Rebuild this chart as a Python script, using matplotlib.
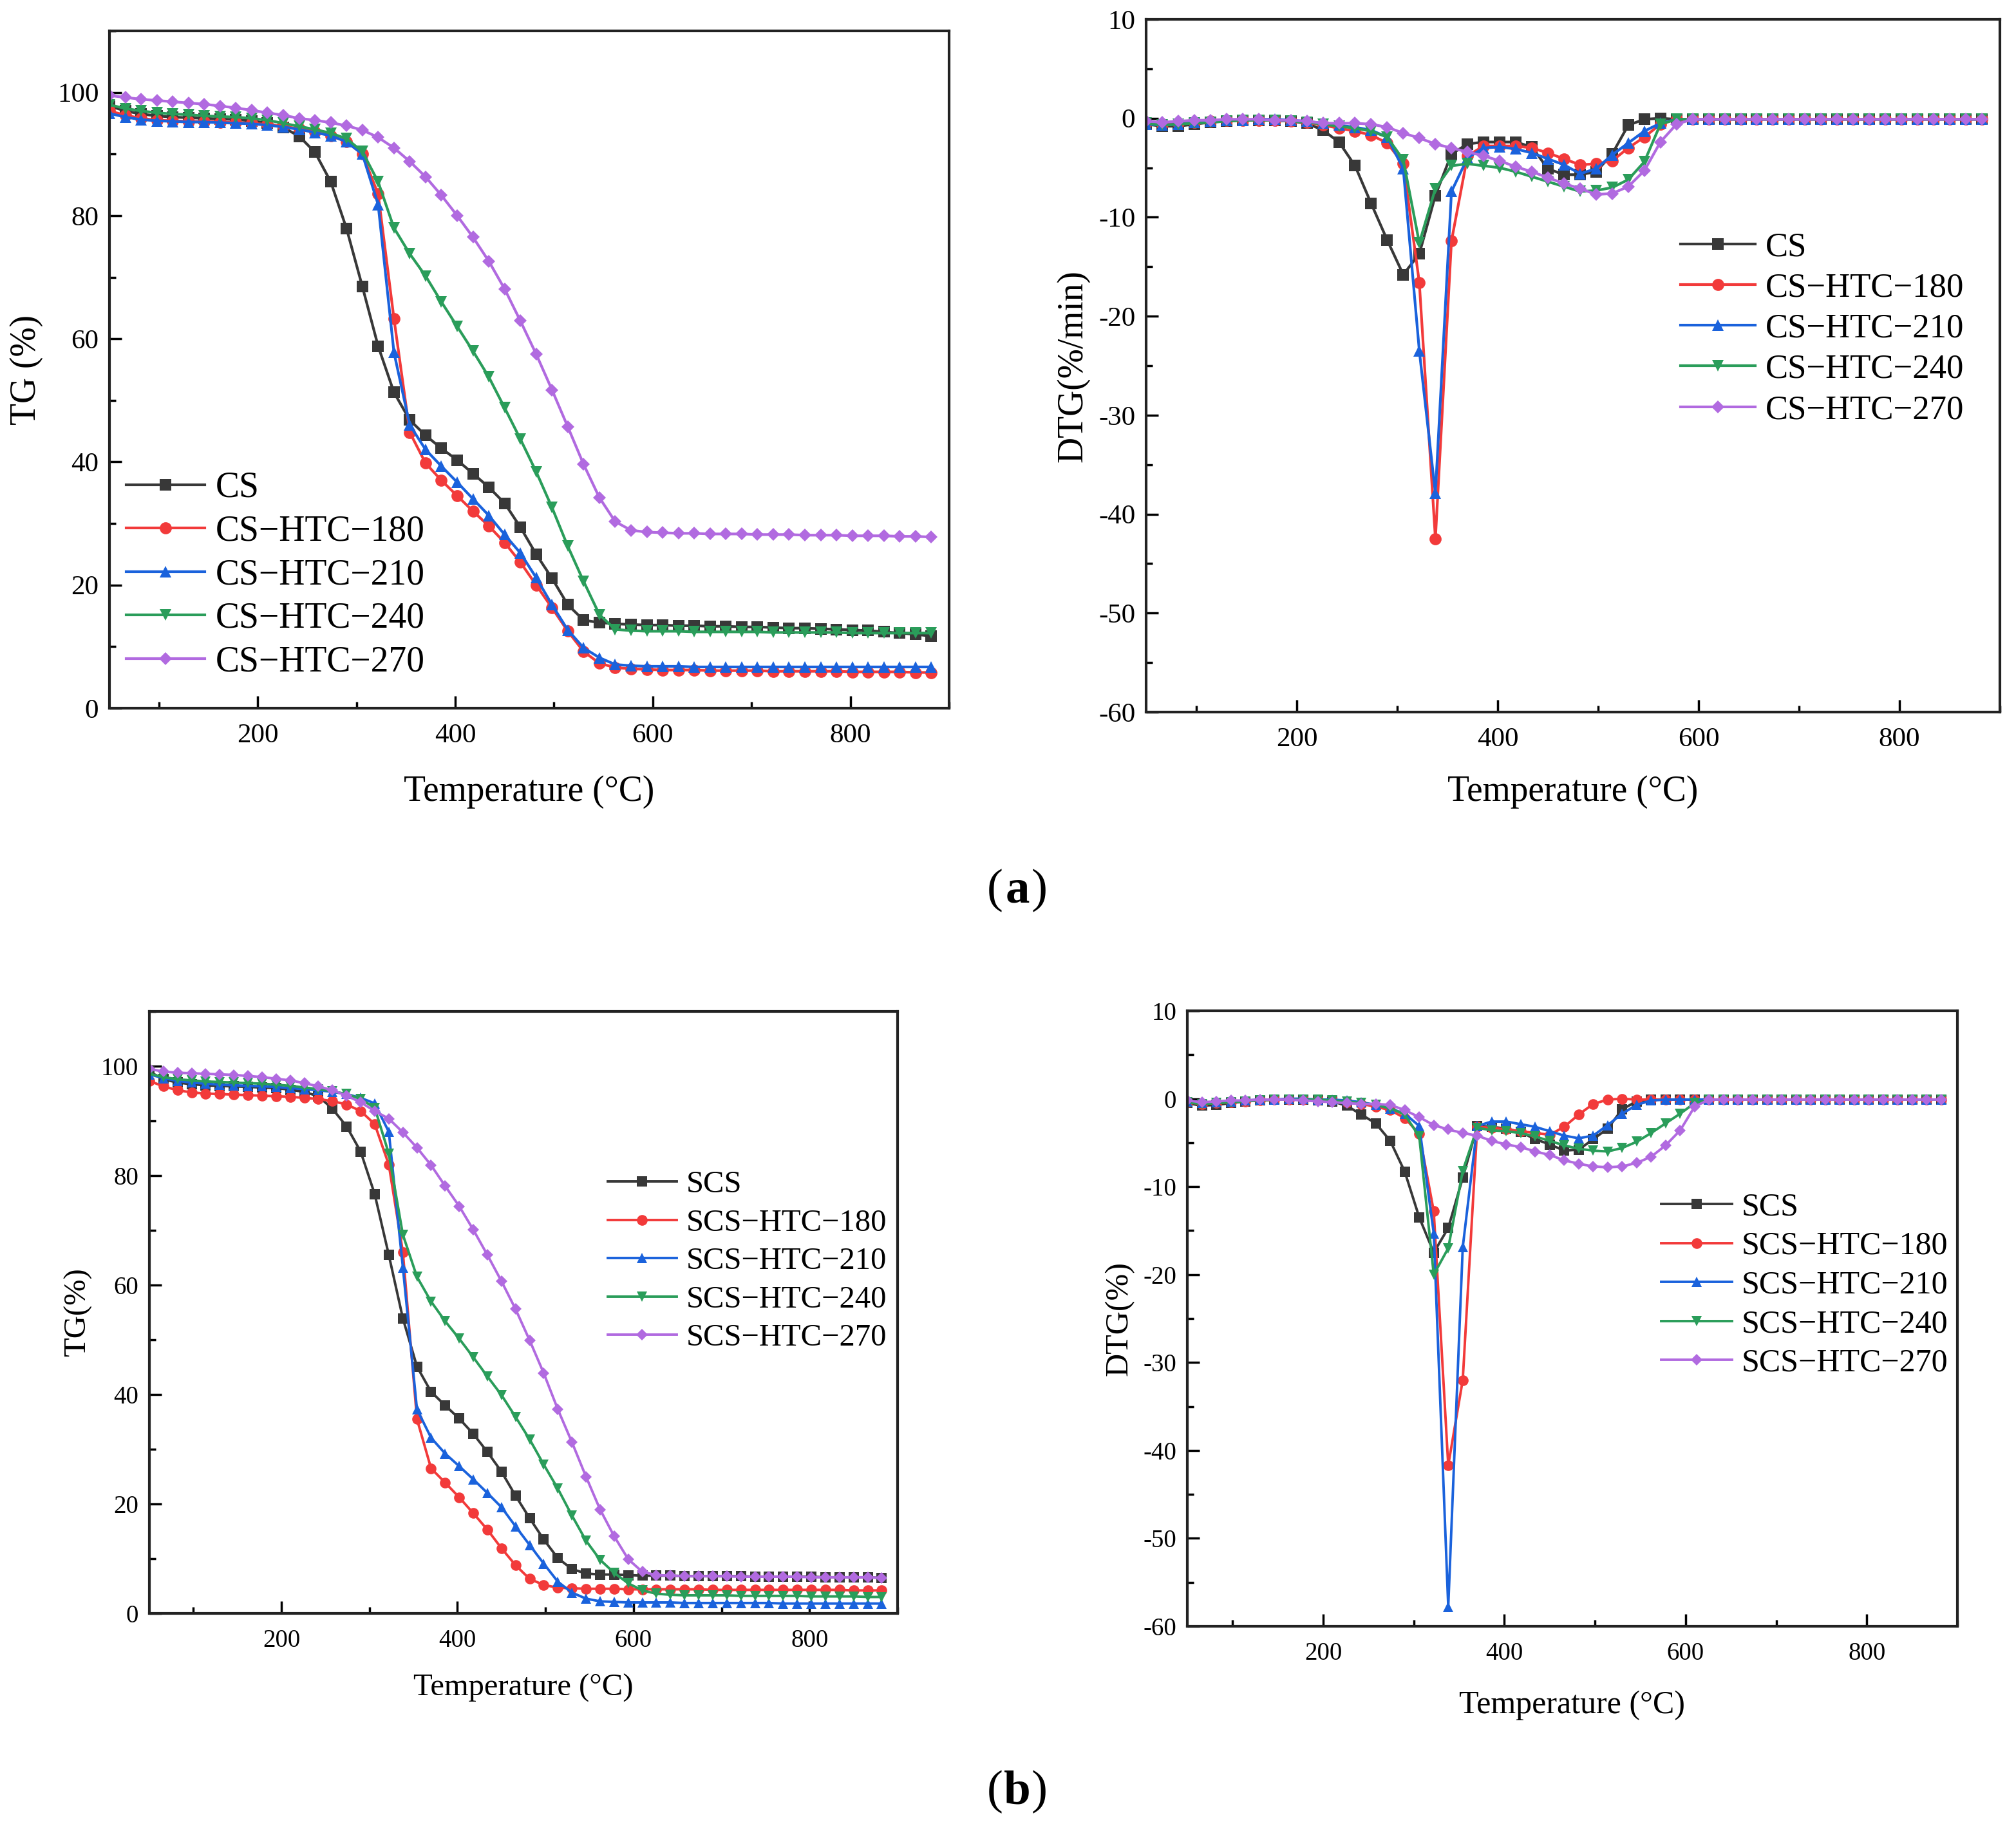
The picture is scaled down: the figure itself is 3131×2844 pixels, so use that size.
import matplotlib
matplotlib.use("Agg")
import matplotlib.pyplot as plt
from matplotlib.ticker import MultipleLocator, AutoMinorLocator

plt.rcParams['font.family'] = ['Liberation Serif', 'DejaVu Serif']
plt.rcParams['axes.unicode_minus'] = False

# ---------------- data ----------------
temperature = [50, 66, 82, 98, 114, 130, 146, 162, 178, 194,
               210, 226, 242, 258, 274, 290, 306, 322, 338, 354,
               370, 386, 402, 418, 434, 450, 466, 482, 498, 514,
               530, 546, 562, 578, 594, 610, 626, 642, 658, 674,
               690, 706, 722, 738, 754, 770, 786, 802, 818, 834,
               850, 866, 882]

labels_a = ["CS", "CS\u2212HTC\u2212180", "CS\u2212HTC\u2212210", "CS\u2212HTC\u2212240", "CS\u2212HTC\u2212270"]
labels_b = ["SCS", "SCS\u2212HTC\u2212180", "SCS\u2212HTC\u2212210", "SCS\u2212HTC\u2212240", "SCS\u2212HTC\u2212270"]

# (a) TG
tg_cs = [97.8, 97.0, 96.5, 96.2, 96.0, 95.9, 95.8, 95.7, 95.6, 95.4,
         95.0, 94.3, 92.9, 90.3, 85.5, 77.9, 68.5, 58.8, 51.3, 46.8,
         44.3, 42.2, 40.3, 38.1, 35.9, 33.3, 29.4, 25.0, 21.1, 16.8,
         14.3, 13.9, 13.7, 13.6, 13.5, 13.5, 13.4, 13.4, 13.3, 13.3,
         13.2, 13.2, 13.1, 13.0, 13.0, 12.9, 12.8, 12.7, 12.6, 12.4,
         12.2, 12.0, 11.7]
tg_cs180 = [97.0, 96.3, 95.8, 95.5, 95.4, 95.3, 95.3, 95.2, 95.1, 95.0,
            94.8, 94.5, 94.1, 93.6, 93.0, 92.0, 90.0, 83.5, 63.3, 44.8,
            39.8, 37.0, 34.5, 32.0, 29.6, 26.9, 23.7, 20.0, 16.3, 12.5,
            9.2, 7.3, 6.6, 6.4, 6.3, 6.2, 6.2, 6.2, 6.1, 6.1,
            6.1, 6.1, 6.0, 6.0, 6.0, 6.0, 6.0, 5.9, 5.9, 5.9,
            5.9, 5.8, 5.8]
tg_cs210 = [96.6, 96.0, 95.6, 95.4, 95.3, 95.2, 95.2, 95.1, 95.0, 94.9,
            94.7, 94.4, 94.0, 93.5, 93.0, 92.0, 90.0, 81.8, 57.8, 46.0,
            42.0, 39.3, 36.7, 34.0, 31.3, 28.2, 25.2, 21.2, 16.8, 12.7,
            9.8, 8.2, 7.1, 6.9, 6.8, 6.8, 6.8, 6.7, 6.7, 6.7,
            6.7, 6.7, 6.7, 6.7, 6.7, 6.7, 6.7, 6.7, 6.7, 6.7,
            6.7, 6.7, 6.7]
tg_cs240 = [98.0, 97.4, 97.0, 96.7, 96.5, 96.4, 96.2, 96.1, 96.0, 95.8,
            95.5, 95.0, 94.5, 94.0, 93.4, 92.5, 90.4, 85.5, 78.0, 73.8,
            70.2, 66.0, 62.0, 58.0, 53.8, 48.8, 43.7, 38.4, 32.6, 26.3,
            20.6, 15.2, 12.8, 12.6, 12.5, 12.5, 12.5, 12.4, 12.4, 12.4,
            12.4, 12.4, 12.3, 12.3, 12.3, 12.3, 12.3, 12.2, 12.2, 12.2,
            12.2, 12.2, 12.2]
tg_cs270 = [99.5, 99.2, 98.9, 98.7, 98.5, 98.3, 98.1, 97.8, 97.5, 97.1,
            96.7, 96.3, 95.8, 95.5, 95.1, 94.6, 93.9, 92.7, 91.0, 88.8,
            86.3, 83.3, 80.0, 76.5, 72.6, 68.1, 62.9, 57.5, 51.7, 45.7,
            39.6, 34.2, 30.3, 28.9, 28.6, 28.5, 28.4, 28.4, 28.3, 28.3,
            28.3, 28.2, 28.2, 28.2, 28.1, 28.1, 28.1, 28.0, 28.0, 28.0,
            27.9, 27.9, 27.8]

# (a) DTG
dtg_cs = [-0.6, -0.8, -0.8, -0.6, -0.4, -0.3, -0.2, -0.2, -0.2, -0.3,
          -0.5, -1.2, -2.4, -4.8, -8.6, -12.3, -15.8, -13.7, -7.8, -3.6,
          -2.6, -2.4, -2.4, -2.4, -2.9, -5.1, -5.7, -5.7, -5.4, -3.6,
          -0.7, -0.1, 0.0, -0.1, -0.1, -0.1, -0.1, -0.1, -0.1, -0.1,
          -0.1, -0.1, -0.1, -0.1, -0.1, -0.1, -0.1, -0.1, -0.1, -0.1,
          -0.1, -0.1, -0.1]
dtg_cs180 = [-0.5, -0.6, -0.5, -0.4, -0.3, -0.2, -0.2, -0.2, -0.2, -0.3,
             -0.4, -0.7, -1.0, -1.3, -1.7, -2.5, -4.6, -16.6, -42.5, -12.4,
             -3.8, -2.8, -2.8, -2.8, -3.0, -3.5, -4.1, -4.7, -4.6, -4.3,
             -3.0, -1.9, -0.6, -0.1, -0.1, -0.1, -0.1, -0.1, -0.1, -0.1,
             -0.1, -0.1, -0.1, -0.1, -0.1, -0.1, -0.1, -0.1, -0.1, -0.1,
             -0.1, -0.1, -0.1]
dtg_cs210 = [-0.6, -0.7, -0.6, -0.4, -0.3, -0.2, -0.2, -0.1, -0.1, -0.2,
             -0.3, -0.5, -0.7, -0.9, -1.2, -1.9, -5.1, -23.5, -37.9, -7.4,
             -4.0, -3.0, -2.9, -3.1, -3.5, -4.1, -4.7, -5.6, -5.1, -3.7,
             -2.5, -1.3, -0.5, -0.1, -0.1, -0.1, -0.1, -0.1, -0.1, -0.1,
             -0.1, -0.1, -0.1, -0.1, -0.1, -0.1, -0.1, -0.1, -0.1, -0.1,
             -0.1, -0.1, -0.1]
dtg_cs240 = [-0.5, -0.7, -0.6, -0.5, -0.4, -0.3, -0.2, -0.2, -0.2, -0.3,
             -0.4, -0.6, -0.8, -1.0, -1.3, -1.9, -4.2, -12.6, -7.1, -4.8,
             -4.6, -4.8, -5.0, -5.4, -5.9, -6.4, -6.9, -7.4, -7.3, -7.0,
             -6.2, -4.4, -0.6, -0.1, -0.1, -0.1, -0.1, -0.1, -0.1, -0.1,
             -0.1, -0.1, -0.1, -0.1, -0.1, -0.1, -0.1, -0.1, -0.1, -0.1,
             -0.1, -0.1, -0.1]
dtg_cs270 = [-0.3, -0.4, -0.3, -0.2, -0.2, -0.1, -0.1, -0.1, -0.2, -0.2,
             -0.3, -0.5, -0.5, -0.5, -0.6, -0.9, -1.5, -2.0, -2.6, -3.0,
             -3.4, -3.8, -4.3, -4.9, -5.4, -6.0, -6.6, -7.1, -7.7, -7.6,
             -6.9, -5.3, -2.4, -0.6, -0.1, -0.1, -0.1, -0.1, -0.1, -0.1,
             -0.1, -0.1, -0.1, -0.1, -0.1, -0.1, -0.1, -0.1, -0.1, -0.1,
             -0.1, -0.1, -0.1]

# (b) TG
tg_scs = [99.0, 97.6, 97.0, 96.7, 96.5, 96.4, 96.3, 96.2, 96.1, 96.0,
          95.7, 95.3, 94.5, 92.2, 89.0, 84.4, 76.6, 65.5, 53.9, 45.1,
          40.5, 38.0, 35.6, 32.8, 29.5, 25.9, 21.5, 17.4, 13.5, 10.1,
          8.1, 7.3, 7.1, 7.1, 7.0, 6.9, 6.9, 6.9, 6.8, 6.8,
          6.8, 6.8, 6.8, 6.7, 6.7, 6.7, 6.7, 6.7, 6.6, 6.6,
          6.6, 6.6, 6.5]
tg_scs180 = [97.3, 96.3, 95.6, 95.2, 95.0, 94.9, 94.8, 94.7, 94.6, 94.5,
             94.4, 94.2, 94.0, 93.6, 93.0, 91.8, 89.4, 82.0, 66.0, 35.5,
             26.5, 23.9, 21.2, 18.3, 15.3, 11.9, 8.8, 6.3, 5.2, 4.7,
             4.6, 4.5, 4.5, 4.5, 4.4, 4.4, 4.4, 4.4, 4.4, 4.4,
             4.3, 4.3, 4.3, 4.3, 4.3, 4.3, 4.3, 4.3, 4.3, 4.3,
             4.2, 4.2, 4.2]
tg_scs210 = [98.5, 97.8, 97.3, 97.0, 96.8, 96.6, 96.5, 96.4, 96.3, 96.2,
             96.0, 95.8, 95.6, 95.3, 94.9, 94.2, 93.2, 88.0, 63.2, 37.3,
             32.1, 29.2, 26.9, 24.5, 22.0, 19.4, 15.9, 12.5, 9.1, 5.8,
             3.8, 2.7, 2.2, 2.1, 2.0, 2.0, 2.0, 2.0, 1.9, 1.9,
             1.9, 1.9, 1.9, 1.9, 1.9, 1.8, 1.8, 1.8, 1.8, 1.8,
             1.8, 1.8, 1.8]
tg_scs240 = [98.6, 98.0, 97.6, 97.4, 97.2, 97.1, 97.0, 96.9, 96.8, 96.6,
             96.4, 96.1, 95.8, 95.4, 94.9, 94.0, 92.4, 84.0, 69.2, 61.5,
             57.0, 53.4, 50.2, 46.8, 43.3, 39.9, 35.9, 31.8, 27.2, 22.8,
             17.9, 13.3, 9.8, 7.4, 5.5, 4.2, 3.6, 3.4, 3.3, 3.3,
             3.3, 3.3, 3.2, 3.2, 3.2, 3.2, 3.2, 3.1, 3.1, 3.1,
             3.1, 3.0, 3.0]
tg_scs270 = [99.5, 99.0, 98.8, 98.7, 98.6, 98.5, 98.4, 98.2, 98.0, 97.7,
             97.4, 96.9, 96.3, 95.6, 94.6, 93.4, 91.8, 90.4, 87.9, 85.1,
             81.9, 78.1, 74.4, 70.1, 65.5, 60.7, 55.6, 49.9, 43.9, 37.3,
             31.3, 25.0, 19.0, 14.1, 9.9, 7.6, 7.0, 6.9, 6.8, 6.8,
             6.8, 6.8, 6.7, 6.7, 6.7, 6.7, 6.7, 6.6, 6.6, 6.6,
             6.6, 6.6, 6.5]

# (b) DTG
dtg_scs = [-0.5, -0.8, -0.7, -0.5, -0.3, -0.2, -0.1, -0.1, -0.1, -0.2,
           -0.3, -0.8, -1.8, -2.8, -4.8, -8.3, -13.5, -17.5, -14.7, -9.0,
           -3.1, -3.2, -3.4, -3.8, -4.6, -5.2, -5.9, -5.8, -4.6, -3.4,
           -1.2, -0.3, -0.1, -0.1, -0.1, -0.1, -0.1, -0.1, -0.1, -0.1,
           -0.1, -0.1, -0.1, -0.1, -0.1, -0.1, -0.1, -0.1, -0.1, -0.1,
           -0.1, -0.1, -0.1]
dtg_scs180 = [-0.4, -0.6, -0.5, -0.4, -0.3, -0.2, -0.1, -0.1, -0.1, -0.1,
              -0.2, -0.4, -0.6, -0.9, -1.3, -2.2, -4.0, -12.8, -41.7, -32.0,
              -3.2, -3.3, -3.5, -3.7, -3.9, -4.1, -3.2, -1.8, -0.6, -0.1,
              0.0, -0.1, -0.1, -0.1, -0.1, -0.1, -0.1, -0.1, -0.1, -0.1,
              -0.1, -0.1, -0.1, -0.1, -0.1, -0.1, -0.1, -0.1, -0.1, -0.1,
              -0.1, -0.1, -0.1]
dtg_scs210 = [-0.3, -0.5, -0.4, -0.3, -0.2, -0.1, -0.1, 0.0, 0.0, -0.1,
              -0.1, -0.2, -0.4, -0.7, -1.1, -1.7, -3.1, -15.3, -57.8, -16.9,
              -3.1, -2.6, -2.6, -2.9, -3.2, -3.7, -4.2, -4.5, -4.2, -3.0,
              -1.7, -0.7, -0.2, -0.1, -0.1, -0.1, -0.1, -0.1, -0.1, -0.1,
              -0.1, -0.1, -0.1, -0.1, -0.1, -0.1, -0.1, -0.1, -0.1, -0.1,
              -0.1, -0.1, -0.1]
dtg_scs240 = [-0.4, -0.6, -0.5, -0.4, -0.3, -0.2, -0.1, -0.1, -0.1, -0.1,
              -0.2, -0.3, -0.5, -0.7, -1.1, -1.8, -4.3, -20.0, -17.0, -8.2,
              -3.3, -3.6, -3.7, -3.9, -4.3, -4.8, -5.3, -5.7, -5.9, -6.0,
              -5.6, -4.9, -3.9, -2.8, -1.7, -0.5, -0.1, -0.1, -0.1, -0.1,
              -0.1, -0.1, -0.1, -0.1, -0.1, -0.1, -0.1, -0.1, -0.1, -0.1,
              -0.1, -0.1, -0.1]
dtg_scs270 = [-0.2, -0.4, -0.3, -0.2, -0.2, -0.1, -0.1, -0.1, -0.2, -0.3,
              -0.4, -0.5, -0.6, -0.6, -0.7, -1.3, -2.1, -3.0, -3.5, -3.9,
              -4.2, -4.8, -5.2, -5.5, -6.0, -6.4, -7.0, -7.4, -7.7, -7.8,
              -7.7, -7.3, -6.6, -5.3, -3.6, -0.9, -0.1, -0.1, -0.1, -0.1,
              -0.1, -0.1, -0.1, -0.1, -0.1, -0.1, -0.1, -0.1, -0.1, -0.1,
              -0.1, -0.1, -0.1]

colors = ['#383838', '#f23a3a', '#1a62dc', '#2a9d5a', '#b16ae0']
markers = ['s', 'o', '^', 'v', 'D']

W, H = 3131, 2844
fig = plt.figure(figsize=(W / 100, H / 100), dpi=100)


def fax(l, t, r, b):
    return fig.add_axes([l / W, 1 - b / H, (r - l) / W, (b - t) / H])


def style(ax, ylim, ymaj, tfs):
    ax.set_xlim(50, 900)
    ax.set_ylim(*ylim)
    ax.xaxis.set_major_locator(MultipleLocator(200))
    ax.xaxis.set_minor_locator(MultipleLocator(100))
    ax.yaxis.set_major_locator(MultipleLocator(ymaj))
    ax.yaxis.set_minor_locator(AutoMinorLocator(2))
    ax.tick_params(which='both', direction='in', top=False, right=False,
                   labelsize=tfs, width=2.5)
    ax.tick_params(which='major', length=14)
    ax.tick_params(axis='x', which='major', pad=17)
    ax.tick_params(axis='y', which='major', pad=12)
    ax.tick_params(which='minor', length=7)
    for s in ax.spines.values():
        s.set_linewidth(3.0)
        s.set_color('#222222')


def plot_set(ax, series, labels, ms, lw):
    for k, (ys, lab) in enumerate(zip(series, labels)):
        m = markers[k]
        size = ms * (0.75 if m == 'D' else 1.0)
        ax.plot(temperature, ys, color=colors[k], marker=m, markersize=size,
                linewidth=lw, label=lab, markeredgewidth=0)


leg_kw = dict(frameon=False, handlelength=2.2, handletextpad=0.3,
              borderpad=0, borderaxespad=0)

# ---- (a) TG ----
ax1 = fax(170, 48, 1474, 1100)
plot_set(ax1, [tg_cs, tg_cs180, tg_cs210, tg_cs240, tg_cs270], labels_a, 13.5, 3.0)
style(ax1, (0, 110), 20, 31)
ax1.set_xlabel('Temperature (\u00b0C)', fontsize=40, labelpad=30)
ax1.set_ylabel('TG (%)', fontsize=40, labelpad=16)
ax1.legend(loc='upper left', bbox_to_anchor=(196 / W, 1 - 732 / H), bbox_transform=fig.transFigure,
           fontsize=40, labelspacing=0.28, **leg_kw)

# ---- (a) DTG ----
ax2 = fax(1780, 30, 3106, 1106)
plot_set(ax2, [dtg_cs, dtg_cs180, dtg_cs210, dtg_cs240, dtg_cs270], labels_a, 13.5, 3.0)
style(ax2, (-60, 10), 10, 31)
ax2.set_xlabel('Temperature (\u00b0C)', fontsize=40, labelpad=26)
ax2.set_ylabel('DTG(%/min)', fontsize=40, labelpad=10)
ax2.legend(loc='upper left', bbox_to_anchor=(2610 / W, 1 - 360 / H), bbox_transform=fig.transFigure,
           fontsize=38, labelspacing=0.29, **leg_kw)

# ---- (b) TG ----
ax3 = fax(232, 1571, 1394, 2506)
plot_set(ax3, [tg_scs, tg_scs180, tg_scs210, tg_scs240, tg_scs270], labels_b, 12, 2.8)
style(ax3, (0, 110), 20, 28)
ax3.set_xlabel('Temperature (\u00b0C)', fontsize=35, labelpad=24)
ax3.set_ylabel('TG(%)', fontsize=35, labelpad=10)
ax3.legend(loc='upper left', bbox_to_anchor=(944 / W, 1 - 1818 / H), bbox_transform=fig.transFigure,
           fontsize=35, labelspacing=0.32, **leg_kw)

# ---- (b) DTG ----
ax4 = fax(1844, 1570, 3040, 2526)
plot_set(ax4, [dtg_scs, dtg_scs180, dtg_scs210, dtg_scs240, dtg_scs270], labels_b, 12, 2.8)
style(ax4, (-60, 10), 10, 28)
ax4.set_xlabel('Temperature (\u00b0C)', fontsize=36, labelpad=28)
ax4.set_ylabel('DTG(%)', fontsize=36, labelpad=10)
ax4.legend(loc='upper left', bbox_to_anchor=(2580 / W, 1 - 1852 / H), bbox_transform=fig.transFigure,
           fontsize=36, labelspacing=0.28, **leg_kw)

# panel labels
for (xc, yc, letter) in [(1580, 1383, 'a'), (1580, 2783, 'b')]:
    fig.text(xc / W - 0.011, 1 - yc / H, '(', fontsize=54, ha='center', va='center')
    fig.text(xc / W, 1 - yc / H, letter, fontsize=54, fontweight='bold', ha='center', va='center')
    fig.text(xc / W + 0.011, 1 - yc / H, ')', fontsize=54, ha='center', va='center')

fig.savefig('out.png', dpi=100)
